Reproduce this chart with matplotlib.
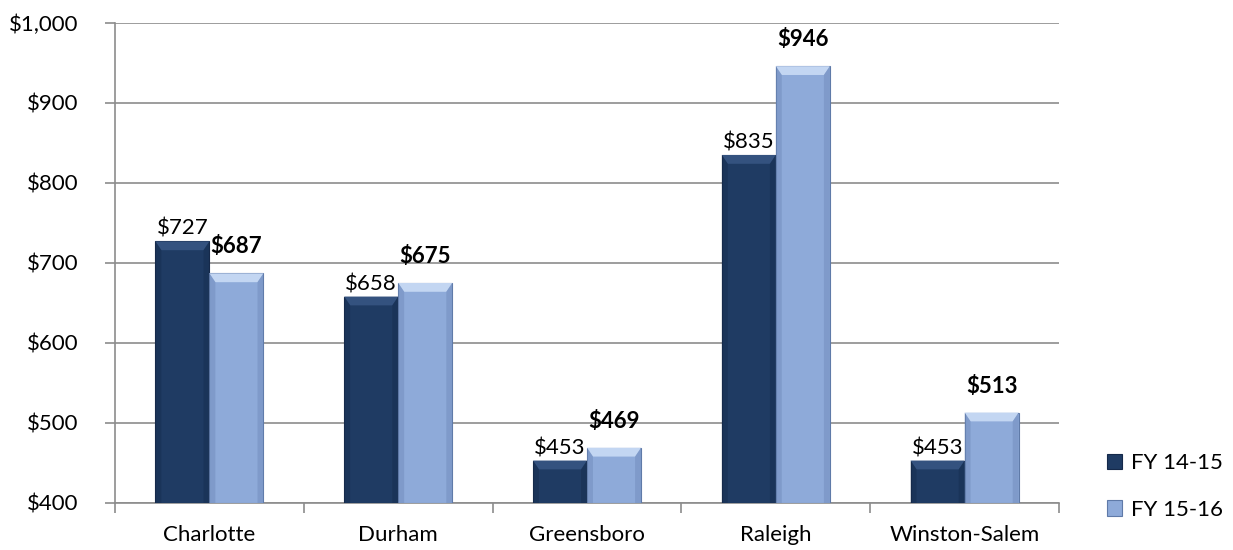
import matplotlib.pyplot as plt
import numpy as np
from matplotlib.patches import Polygon

plt.rcParams['font.family'] = ['Lato', 'DejaVu Sans']

cities = ['Charlotte', 'Durham', 'Greensboro', 'Raleigh', 'Winston-Salem']
fy1415 = [727, 658, 453, 835, 453]
fy1516 = [687, 675, 469, 946, 513]
series = ['FY 14-15', 'FY 15-16']

dark = '#1f3b63'
light = '#8eaad9'
grid_col = '#8c8c8c'

fig = plt.figure(figsize=(12.33, 5.5), dpi=100)
ax = fig.add_axes([0.0933, 0.0855, 0.7656, 0.8727])

x = np.arange(len(cities))
w = 0.286
base = 400
b1 = ax.bar(x - w / 2, np.array(fy1415) - base, w, bottom=base, color=dark,
            edgecolor='#15294a', linewidth=0.8, zorder=3, label=series[0])
b2 = ax.bar(x + w / 2, np.array(fy1516) - base, w, bottom=base, color=light,
            edgecolor='#5f7aa8', linewidth=0.8, zorder=3, label=series[1])


# bevel on top/sides of each bar
def bevel(bars, top_col, side_col):
    for r in bars:
        x0, y0 = r.get_x(), r.get_y()
        bw, bh = r.get_width(), r.get_height()
        d = bw * 0.11
        dy = 11
        ax.add_patch(Polygon([(x0, y0 + bh), (x0 + bw, y0 + bh),
                              (x0 + bw - d, y0 + bh - dy), (x0 + d, y0 + bh - dy)],
                             closed=True, color=top_col, zorder=4, lw=0))
        ax.add_patch(Polygon([(x0, y0 + bh), (x0 + d, y0 + bh - dy),
                              (x0 + d, y0), (x0, y0)],
                             closed=True, color=side_col, zorder=4, lw=0, alpha=0.45))
        ax.add_patch(Polygon([(x0 + bw, y0 + bh), (x0 + bw - d, y0 + bh - dy),
                              (x0 + bw - d, y0), (x0 + bw, y0)],
                             closed=True, color=side_col, zorder=4, lw=0, alpha=0.45))


bevel(b1, '#34527f', '#162c4d')
bevel(b2, '#c3d6f2', '#6d88b8')

for xi, v in zip(x, fy1415):
    ax.text(xi - w / 2, v + 3, f'${v:,}', ha='center', va='bottom', fontsize=16)
for xi, v in zip(x, fy1516):
    ax.text(xi + w / 2, v + 20, f'${v:,}', ha='center', va='bottom',
            fontsize=16, fontweight='bold')

ax.set_ylim(400, 1000)
ax.set_xlim(-0.5, len(cities) - 0.5)
ax.set_yticks(range(400, 1001, 100))
ax.set_yticklabels([f'${v:,}' for v in range(400, 1001, 100)], fontsize=16)
ax.yaxis.grid(True, color=grid_col, linewidth=1.2, zorder=0)
ax.set_axisbelow(True)

ax.set_xticks(x)
ax.set_xticklabels(cities, fontsize=16)
ax.set_xticks(np.arange(-0.5, len(cities), 1), minor=True)
ax.tick_params(axis='x', which='major', length=0, pad=16)
ax.tick_params(axis='x', which='minor', length=7, color=grid_col, width=1.2)
ax.tick_params(axis='y', length=7, color=grid_col, width=1.2, pad=19)

for s in ['top', 'right']:
    ax.spines[s].set_visible(False)
for s in ['left', 'bottom']:
    ax.spines[s].set_color(grid_col)
    ax.spines[s].set_linewidth(1.2)

ax.legend(loc='lower left', bbox_to_anchor=(1.041, -0.054), frameon=False,
          fontsize=16, handlelength=0.7, handleheight=0.7, labelspacing=1.2,
          handletextpad=0.4, borderaxespad=0)

fig.savefig('out.png', dpi=100)
